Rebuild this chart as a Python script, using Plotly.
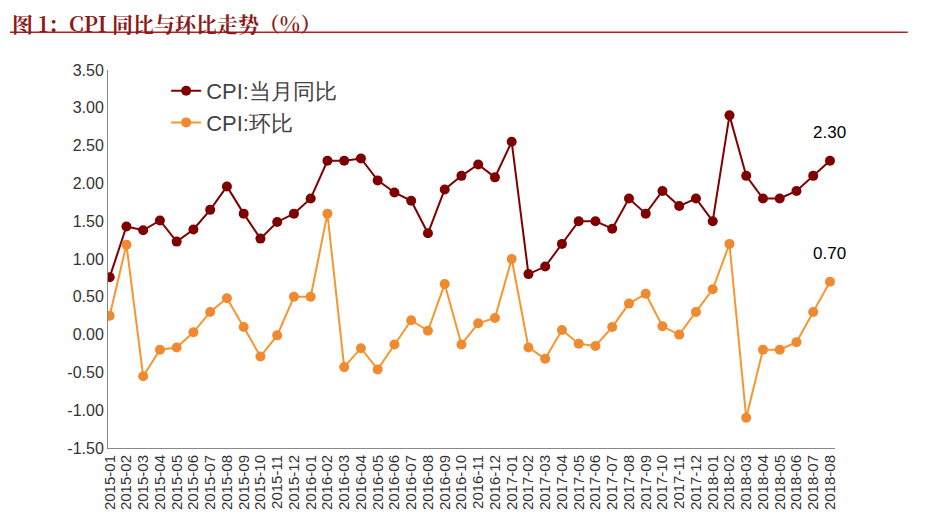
import plotly.graph_objects as go

months = [f"{y}-{m:02d}" for y in range(2015, 2019) for m in range(1, 13)][:44]
yoy = [0.76,1.43,1.38,1.51,1.23,1.39,1.65,1.96,1.60,1.27,1.49,1.60,
       1.80,2.30,2.30,2.33,2.04,1.88,1.77,1.34,1.92,2.10,2.25,2.08,
       2.55,0.80,0.90,1.20,1.50,1.50,1.40,1.80,1.60,1.90,1.70,1.80,
       1.50,2.90,2.10,1.80,1.80,1.90,2.10,2.30]
mom = [0.25,1.19,-0.55,-0.20,-0.17,0.03,0.30,0.48,0.10,-0.29,-0.01,0.50,
       0.50,1.60,-0.43,-0.18,-0.46,-0.13,0.19,0.05,0.67,-0.13,0.15,0.22,
       1.00,-0.17,-0.32,0.06,-0.12,-0.15,0.10,0.41,0.54,0.11,0.00,0.30,
       0.60,1.20,-1.10,-0.20,-0.20,-0.10,0.30,0.70]
yticks = [3.5,3.0,2.5,2.0,1.5,1.0,0.5,0.0,-0.5,-1.0,-1.5]

fig = go.Figure()
fig.add_trace(go.Scatter(x=months, y=yoy, name="CPI:当月同比", mode="lines+markers",
    line=dict(color="#7f0000", width=2), marker=dict(size=10, color="#7f0000")))
fig.add_trace(go.Scatter(x=months, y=mom, name="CPI:环比", mode="lines+markers",
    line=dict(color="#f7962f", width=2), marker=dict(size=10, color="#f08a30")))
fig.add_annotation(x=months[-1], y=yoy[-1], text=f"{yoy[-1]:.2f}", showarrow=False, yshift=28,
                   font=dict(size=17, color="black"))
fig.add_annotation(x=months[-1], y=mom[-1], text=f"{mom[-1]:.2f}", showarrow=False, yshift=28,
                   font=dict(size=17, color="black"))
fig.add_annotation(xref="paper", yref="paper", x=-0.135, y=1.17, xanchor="left", showarrow=False,
    text="<b>图 1：CPI 同比与环比走势（%）</b>",
    font=dict(family="Noto Serif CJK SC, Liberation Serif, Noto Sans CJK SC", size=21, color="#8b1a1a"))
fig.add_shape(type="line", xref="paper", yref="paper", x0=-0.135, x1=1.1, y0=1.1, y1=1.1,
              line=dict(color="#b22222", width=1.5))
fig.update_layout(
    width=927, height=526, margin=dict(l=100, r=100, t=62, b=86),
    plot_bgcolor="white", paper_bgcolor="white",
    font=dict(family="Liberation Sans, Arial", size=15, color="#333"),
    legend=dict(x=0.08, y=1.0, bgcolor="rgba(0,0,0,0)", font=dict(size=22, color="#444")),
    xaxis=dict(type="category", tickangle=-90, showgrid=False, showline=True, linecolor="#888",
               tickfont=dict(size=15), dtick=1, range=[-0.1, 43.3]),
    yaxis=dict(range=[-1.5, 3.5], tickvals=yticks, ticktext=[f"{v:.2f}" for v in yticks],
               showgrid=False, showline=True, linecolor="#888", zeroline=False, tickfont=dict(size=16)),
)
fig.write_html("out.html")
